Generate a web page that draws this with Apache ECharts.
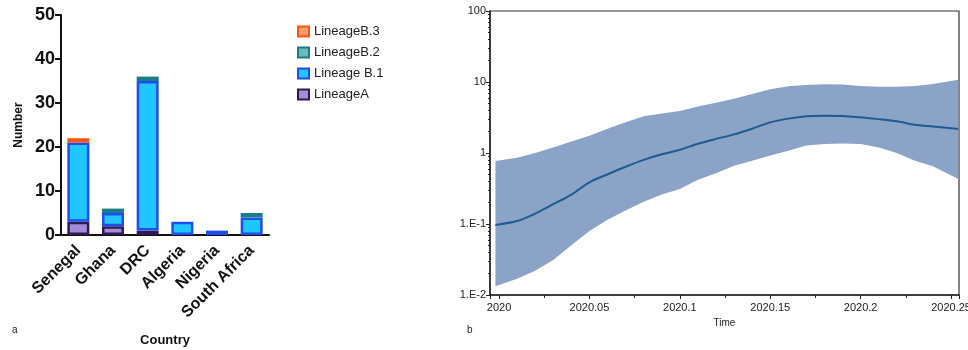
<!DOCTYPE html>
<html>
<head>
<meta charset="utf-8">
<script src="https://cdn.jsdelivr.net/npm/echarts@6/dist/echarts.min.js"></script>
<style>
  html, body { margin: 0; padding: 0; background: #fff; }
  #main { width: 968px; height: 350px; }
</style>
</head>
<body>
<div id="main"></div>
<script>
// panel a: lineages per country
var countries = ['Senegal', 'Ghana', 'DRC', 'Algeria', 'Nigeria', 'South Africa'];
var lineageA  = [3, 2, 1, '-', '-', '-'];
var lineageB1 = [18, 3, 34, 3, 1, 4];
var lineageB2 = ['-', 1, 1, '-', '-', 1];
var lineageB3 = [1, '-', '-', '-', '-', '-'];

// panel b: skyline (median + 95% HPD)
var times  = [2019.998, 2020.01, 2020.02, 2020.03, 2020.04, 2020.05, 2020.06, 2020.07, 2020.08, 2020.09,
              2020.10, 2020.11, 2020.12, 2020.13, 2020.14, 2020.15, 2020.16, 2020.17, 2020.18, 2020.19,
              2020.20, 2020.21, 2020.22, 2020.23, 2020.24, 2020.254];
var median = [0.097, 0.11, 0.14, 0.19, 0.26, 0.387, 0.50, 0.64, 0.80, 0.96,
              1.11, 1.35, 1.58, 1.83, 2.2, 2.7, 3.05, 3.3, 3.36, 3.33,
              3.18, 3.0, 2.8, 2.5, 2.36, 2.18];
var upper  = [0.77, 0.86, 1.0, 1.2, 1.45, 1.75, 2.2, 2.7, 3.3, 3.6,
              3.9, 4.5, 5.1, 5.8, 6.8, 7.9, 8.7, 9.1, 9.3, 9.2,
              8.8, 8.6, 8.6, 8.8, 9.4, 10.8];
var lower  = [0.0133, 0.017, 0.022, 0.031, 0.050, 0.080, 0.115, 0.155, 0.205, 0.26,
              0.31, 0.42, 0.52, 0.66, 0.78, 0.92, 1.08, 1.28, 1.34, 1.36,
              1.34, 1.2, 1.0, 0.78, 0.65, 0.43];

var myChart = echarts.init(document.getElementById('main'), null, {renderer: 'canvas'});

function barSeries(name, data, fill, border) {
    return {
        name: name, type: 'bar', stack: 'n',
        xAxisIndex: 0, yAxisIndex: 0,
        barWidth: 22,
        data: data,
        itemStyle: { color: fill, borderColor: border, borderWidth: 2.5 }
    };
}

var option = {
    animation: false,
    textStyle: { fontFamily: 'Liberation Sans, Arial, sans-serif' },
    graphic: [
        { type: 'text', left: 12, top: 325, style: { text: 'a', fontSize: 10, fill: '#222' } },
        { type: 'text', left: 467, top: 325, style: { text: 'b', fontSize: 10, fill: '#222' } }
    ],
    legend: {
        orient: 'vertical',
        left: 292, top: 20,
        icon: 'rect',
        itemWidth: 11, itemHeight: 10, itemGap: 8,
        data: ['LineageB.3', 'LineageB.2', 'Lineage B.1', 'LineageA'],
        textStyle: { fontSize: 13, color: '#222', fontFamily: 'Liberation Sans, Arial, sans-serif' }
    },
    grid: [
        { left: 61, top: 15, width: 208, height: 220, outerBoundsMode: 'none' },
        { left: 490, top: 11, right: 9, bottom: 55, outerBoundsMode: 'none',
          show: true, borderColor: '#333', borderWidth: 1.2 }
    ],
    xAxis: [
        {
            gridIndex: 0, type: 'category', data: countries,
            name: 'Country', nameLocation: 'middle', nameGap: 99,
            nameTextStyle: { fontSize: 13, fontWeight: 'bold', color: '#111' },
            axisLine: { lineStyle: { color: '#111', width: 2 } },
            axisTick: { alignWithLabel: true, length: 6, lineStyle: { width: 2, color: '#111' } },
            axisLabel: { rotate: 45, interval: 0, fontSize: 16, fontWeight: 'bold', color: '#111', margin: 13 }
        },
        {
            gridIndex: 1, type: 'value', min: 2019.995, max: 2020.2544, splitNumber: 5,
            name: 'Time', nameLocation: 'middle', nameGap: 22,
            nameTextStyle: { fontSize: 10, color: '#222' },
            splitLine: { show: false },
            axisLine: { onZero: false, lineStyle: { color: '#222', width: 1.5 } },
            axisTick: { length: 4, lineStyle: { color: '#222' } },
            minorTick: { show: true, splitNumber: 2, length: 3, lineStyle: { color: '#222' } },
            axisLabel: {
                fontSize: 11, color: '#222', margin: 7, showMinLabel: false, showMaxLabel: false,
                formatter: function (v) { return String(+v.toFixed(3)); }
            }
        }
    ],
    yAxis: [
        {
            gridIndex: 0, type: 'value', min: 0, max: 50, interval: 10,
            name: 'Number', nameLocation: 'middle', nameGap: 36,
            nameTextStyle: { fontSize: 12, fontWeight: 'bold', color: '#111' },
            splitLine: { show: false },
            axisLine: { show: true, lineStyle: { color: '#111', width: 2 } },
            axisTick: { show: true, length: 6, lineStyle: { width: 2, color: '#111' } },
            axisLabel: { fontSize: 18, fontWeight: 'bold', color: '#111', margin: 6 }
        },
        {
            gridIndex: 1, type: 'log', logBase: 10, min: 0.01, max: 100,
            splitLine: { show: false },
            axisLine: { show: true, lineStyle: { color: '#222', width: 1.5 } },
            axisTick: { show: true, length: 4, lineStyle: { color: '#222' } },
            minorTick: { show: true, splitNumber: 9, length: 2, lineStyle: { color: '#222' } },
            axisLabel: {
                fontSize: 11, color: '#222', margin: 4,
                formatter: function (v) {
                    if (v >= 1) return String(Math.round(v));
                    return '1.E' + Math.round(Math.log10(v));
                }
            }
        }
    ],
    series: [
        barSeries('LineageA', lineageA, '#a48bd6', '#2c1b52'),
        barSeries('Lineage B.1', lineageB1, '#1fc6ff', '#1f4cf5'),
        barSeries('LineageB.2', lineageB2, '#6cb9bd', '#1a7c84'),
        barSeries('LineageB.3', lineageB3, '#ff9d72', '#ff5512'),
        {
            name: 'HPD', type: 'custom', xAxisIndex: 1, yAxisIndex: 1,
            data: times.map(function (t, i) { return [t, lower[i], upper[i]]; }),
            encode: { x: 0, y: [1, 2] },
            silent: true, z: 1,
            renderItem: function (params, api) {
                if (params.dataIndex !== 0) return null;
                var pts = [];
                for (var i = 0; i < times.length; i++) pts.push(api.coord([times[i], upper[i]]));
                for (var j = times.length - 1; j >= 0; j--) pts.push(api.coord([times[j], lower[j]]));
                var cs = params.coordSys;
                return {
                    type: 'polygon',
                    shape: { points: pts },
                    style: { fill: '#8ba3c7', stroke: null },
                    clipPath: { type: 'rect', shape: { x: cs.x, y: cs.y, width: cs.width, height: cs.height } }
                };
            }
        },
        {
            name: 'Median', type: 'line', xAxisIndex: 1, yAxisIndex: 1,
            data: times.map(function (t, i) { return [t, median[i]]; }),
            smooth: 0.3, showSymbol: false, z: 3,
            lineStyle: { color: '#1c5b96', width: 2 }
        }
    ]
};

myChart.setOption(option);
</script>
</body>
</html>
